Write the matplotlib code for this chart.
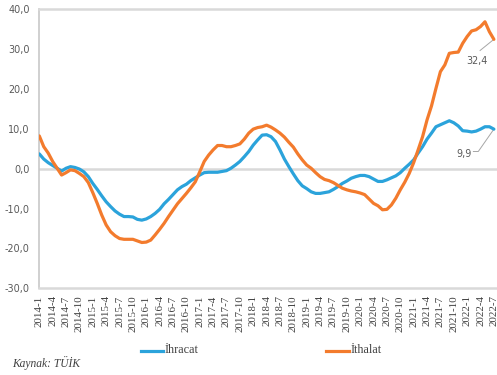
import matplotlib
matplotlib.use("Agg")
import matplotlib.pyplot as plt
import numpy as np

# Monthly periods 2014-1 .. 2022-7
years = list(range(2014, 2023))
periods = [f"{y}-{m}" for y in years for m in range(1, 13)]
periods = periods[: periods.index("2022-7") + 1]

# Annual change (%), export (İhracat) and import (İthalat)
ihracat = [
    3.7, 2.4, 1.5, 0.8, 0.1, -0.6, 0.1, 0.5, 0.3, -0.1, -0.8, -2.0,
    -3.7, -5.2, -6.8, -8.3, -9.5, -10.6, -11.4, -12.0, -12.0, -12.1, -12.7, -12.9,
    -12.6, -12.0, -11.2, -10.2, -8.8, -7.7, -6.5, -5.3, -4.5, -3.9, -3.0, -2.3,
    -1.6, -1.0, -0.9, -0.9, -0.9, -0.7, -0.5, 0.1, 0.9, 1.8, 3.0, 4.3,
    5.9, 7.2, 8.4, 8.5, 8.0, 6.8, 4.7, 2.4, 0.5, -1.3, -3.0, -4.3,
    -5.0, -5.8, -6.2, -6.2, -6.0, -5.8, -5.2, -4.5, -3.7, -3.1, -2.4, -2.0,
    -1.7, -1.7, -2.0, -2.6, -3.2, -3.2, -2.8, -2.3, -1.8, -1.0, 0.1, 1.1,
    2.2, 3.9, 5.5, 7.4, 8.9, 10.5, 11.0, 11.5, 12.0, 11.5, 10.7, 9.5,
    9.4, 9.2, 9.4, 9.9, 10.5, 10.5, 9.9,
]
ithalat = [
    8.2, 5.5, 3.9, 1.8, 0.1, -1.6, -1.0, -0.3, -0.5, -1.2, -2.0, -3.5,
    -6.0, -8.7, -11.6, -14.1, -15.8, -16.8, -17.5, -17.7, -17.7, -17.7, -18.1, -18.5,
    -18.4, -17.9, -16.6, -15.2, -13.7, -12.0, -10.4, -8.8, -7.5, -6.2, -4.8, -3.3,
    -0.8, 1.8, 3.4, 4.7, 5.8, 5.8, 5.5, 5.5, 5.8, 6.2, 7.4, 8.9,
    9.9, 10.3, 10.5, 10.9, 10.4, 9.7, 8.9, 7.9, 6.6, 5.4, 3.7, 2.2,
    0.9, 0.1, -1.0, -2.0, -2.7, -3.0, -3.5, -4.2, -4.9, -5.3, -5.6, -5.8,
    -6.1, -6.5, -7.6, -8.7, -9.3, -10.3, -10.2, -9.1, -7.4, -5.3, -3.4, -1.2,
    1.5, 4.7, 8.0, 12.2, 15.7, 20.1, 24.3, 26.0, 28.9, 29.1, 29.2, 31.4,
    33.1, 34.5, 34.8, 35.6, 36.8, 34.3, 32.4,
]
series_names = ["İhracat", "İthalat"]
yticks = [-30, -20, -10, 0, 10, 20, 30, 40]

blue = "#2BA3DB"
orange = "#F37B2D"
grid = "#D9D9D9"
text_gray = "#595959"

fig = plt.figure(figsize=(4.97, 3.75), dpi=100)
ax = fig.add_axes([39.3 / 497, 1 - 288.4 / 375, 1 - 39.3 / 497, (288.4 - 9) / 375])

x = np.arange(len(periods))
ax.plot(x, ihracat, color=blue, lw=2.3, solid_capstyle="round", zorder=3, label=series_names[0])
ax.plot(x, ithalat, color=orange, lw=2.3, solid_capstyle="round", zorder=3, label=series_names[1])

ax.set_xlim(0, len(periods) - 1 + 0.7)
ax.set_ylim(-30, 40)
ax.axhline(0, color=grid, lw=1.8, zorder=1)

ax.spines["right"].set_visible(False)
ax.spines["top"].set_color(grid)
ax.spines["top"].set_linewidth(1.8)
ax.spines["bottom"].set_color(grid)
ax.spines["bottom"].set_linewidth(1.8)
ax.spines["left"].set_color("#C8C8C8")
ax.spines["left"].set_linewidth(1.2)

ax.set_yticks(yticks)
ax.set_yticklabels([f"{v:.1f}".replace(".", ",") for v in yticks],
                   fontsize=6.9, color=text_gray, family="DejaVu Sans")
ax.tick_params(axis="y", length=0, pad=7)

ax.set_xticks(x[::3])
ax.set_xticklabels(periods[::3], rotation=90, fontsize=7.9, color="#404040",
                   family="Liberation Serif")
ax.tick_params(axis="x", length=0, pad=5)

# End-of-series value labels with leader lines
ax.plot([98.9, 102], [29.6, ithalat[-1]], color="#A6A6A6", lw=0.7, zorder=2, clip_on=False)
ax.text(98.1, 27.0, f"{ithalat[-1]:.1f}".replace(".", ","), fontsize=6.9,
        color=text_gray, ha="center", va="center", family="DejaVu Sans")
ax.plot([97.4, 98.5, 102], [4.3, 4.3, ihracat[-1]], color="#A6A6A6", lw=0.7, zorder=2, clip_on=False)
ax.text(95.2, 3.7, f"{ihracat[-1]:.1f}".replace(".", ","), fontsize=6.9,
        color=text_gray, ha="center", va="center", family="DejaVu Sans")

# Legend drawn as figure elements below the axis labels
for (x0, x1), name, col in [((141, 163), series_names[0], blue),
                            ((326, 349), series_names[1], orange)]:
    fig.add_artist(plt.Line2D([x0 / 497, x1 / 497], [1 - 350.5 / 375] * 2,
                              color=col, lw=2.3, transform=fig.transFigure))
    fig.text((x1 + 1.5) / 497, 1 - 350.0 / 375, name, fontsize=8.7, color="#404040",
             ha="left", va="center", family="Liberation Serif")

fig.text(12 / 497, 1 - 362.7 / 375, "Kaynak: TÜİK", fontsize=8.3, style="italic",
         color="#404040", ha="left", va="center", family="Liberation Serif")

fig.savefig("out.png", dpi=100)
